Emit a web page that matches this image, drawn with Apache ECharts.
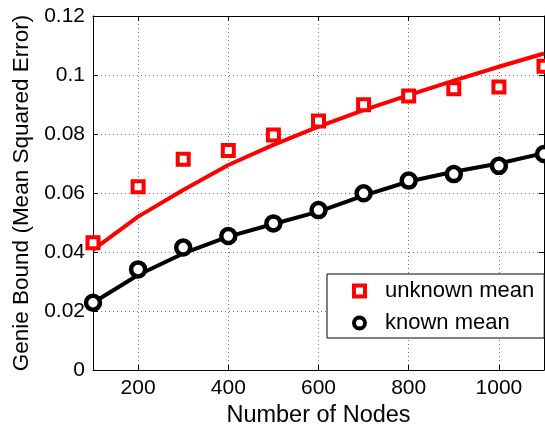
<!DOCTYPE html>
<html>
	<head>
		<meta charset="utf-8">
		<script src="https://cdn.jsdelivr.net/npm/echarts@6.0.0/dist/echarts.min.js"></script>
		<title></title>
		<style>
			html, body { margin: 0; padding: 0; background: #fff; }
		</style>
	</head>
	<body>
		<div id="main" style="width: 545px;height:425px;"></div>
		<script type="text/javascript">
			// 数据
			var nodes = [100, 200, 300, 400, 500, 600, 700, 800, 900, 1000, 1100];
			var unknownPts = [0.0431, 0.0621, 0.0714, 0.0744, 0.0797, 0.0844, 0.0899, 0.0929, 0.0953, 0.0959, 0.1030];
			var unknownFit = [0.0407, 0.0520, 0.0610, 0.0695, 0.0763, 0.0825, 0.0881, 0.0932, 0.0981, 0.1028, 0.1073];
			var knownPts = [0.0228, 0.0341, 0.0415, 0.0454, 0.0497, 0.0542, 0.0599, 0.0642, 0.0664, 0.0692, 0.0732];
			var knownFit = [0.0228, 0.0322, 0.0395, 0.0452, 0.0495, 0.0537, 0.0591, 0.0639, 0.0672, 0.0700, 0.0735];
			var xTicks = [200, 400, 600, 800, 1000];

			function pairs(ys) {
				return nodes.map(function(x, i) { return [x, ys[i]]; });
			}

			var font = "'Liberation Sans', Arial, sans-serif";
			var myChart = echarts.init(document.getElementById('main'));

			var baseX = {
				type: 'value',
				min: 100,
				max: 1100,
				axisLine: { show: true, onZero: false, lineStyle: { color: '#000', width: 1 } },
				axisTick: { show: true, inside: true, length: 5, customValues: xTicks, lineStyle: { color: '#000' } }
			};
			var baseY = {
				type: 'value',
				min: 0,
				max: 0.12,
				interval: 0.02,
				axisLine: { show: true, onZero: false, lineStyle: { color: '#000', width: 1 } },
				axisTick: { show: true, inside: true, length: 5, lineStyle: { color: '#000' } }
			};

			var option = {
				animation: false,
				textStyle: { fontFamily: font },
				grid: { left: 93, right: 1, top: 16, bottom: 55, outerBoundsMode: 'none' },
				legend: {
					orient: 'vertical',
					left: 327,
					top: 274,
					data: ['unknown mean', 'known mean'],
					itemWidth: 11,
					itemHeight: 11,
					itemGap: 10,
					padding: [6, 10, 4, 25],
					backgroundColor: '#fff',
					borderColor: '#000',
					borderWidth: 1,
					itemStyle: { borderWidth: 4 },
					textStyle: { fontFamily: font, fontSize: 22, color: '#000', lineHeight: 21, padding: [0, 0, 0, 15] }
				},
				xAxis: [
					Object.assign({}, baseX, {
						position: 'bottom',
						name: 'Number of Nodes',
						nameLocation: 'middle',
						nameGap: 28,
						nameTextStyle: { fontFamily: font, fontSize: 23.5, color: '#000' },
						axisLabel: {
							margin: 8, fontFamily: font, fontSize: 21, color: '#000', customValues: xTicks,
							formatter: function(v) { return String(v); }
						},
						splitLine: { show: true, lineStyle: { color: '#777', type: [1, 3], width: 1 } }
					}),
					Object.assign({}, baseX, {
						position: 'top',
						axisLabel: { show: false },
						splitLine: { show: false }
					})
				],
				yAxis: [
					Object.assign({}, baseY, {
						position: 'left',
						name: 'Genie Bound (Mean Squared Error)',
						nameLocation: 'middle',
						nameGap: 60,
						nameTextStyle: { fontFamily: font, fontSize: 22.5, color: '#000' },
						axisLabel: { margin: 8, fontFamily: font, fontSize: 21, color: '#000' },
						splitLine: { show: true, lineStyle: { color: '#777', type: [1, 3], width: 1 } }
					}),
					Object.assign({}, baseY, {
						position: 'right',
						axisLabel: { show: false },
						splitLine: { show: false }
					})
				],
				series: [
					{
						name: 'unknown fit',
						type: 'line',
						data: pairs(unknownFit),
						showSymbol: false,
						lineStyle: { color: '#ff0000', width: 4 },
						itemStyle: { color: '#ff0000' },
						z: 2
					},
					{
						name: 'known fit',
						type: 'line',
						data: pairs(knownFit),
						showSymbol: false,
						lineStyle: { color: '#000', width: 4 },
						itemStyle: { color: '#000' },
						z: 2
					},
					{
						name: 'unknown mean',
						type: 'scatter',
						data: pairs(unknownPts),
						symbol: 'rect',
						symbolSize: 11,
						itemStyle: { color: '#fff', borderColor: '#ff0000', borderWidth: 4, opacity: 1 },
						z: 3
					},
					{
						name: 'known mean',
						type: 'scatter',
						data: pairs(knownPts),
						symbol: 'circle',
						symbolSize: 14,
						itemStyle: { color: '#fff', borderColor: '#000', borderWidth: 4.5, opacity: 1 },
						z: 3
					}
				]
			};

			myChart.setOption(option);
		</script>
	</body>
</html>
